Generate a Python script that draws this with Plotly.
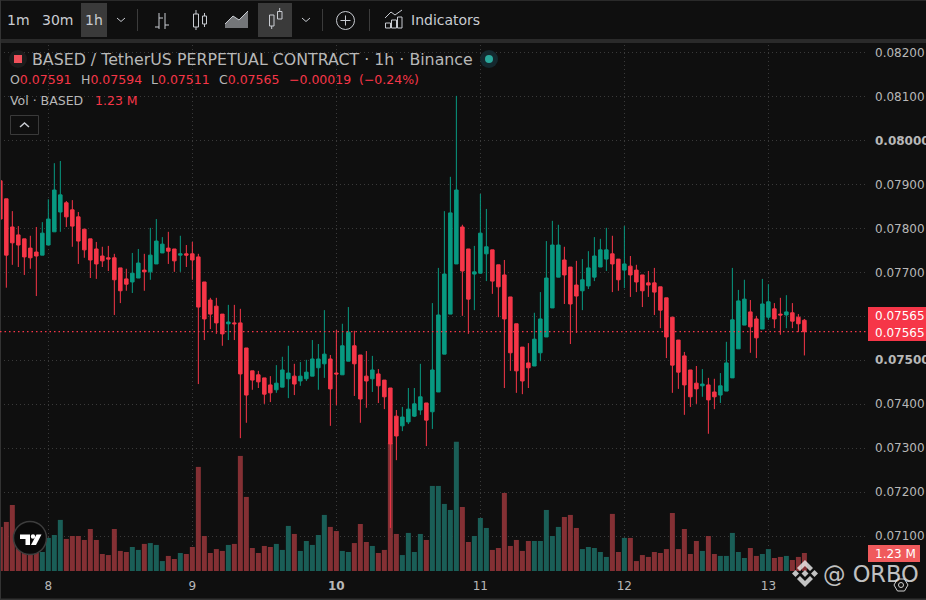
import numpy as np
import plotly.graph_objects as go

# BASED/USDT perp, 1h candles. Prices are in units of 0.00001
open_ = [
    7908, 7867, 7803, 7785, 7776, 7755, 7746, 7739, 7762, 7792,
    7837, 7858, 7842, 7826, 7798, 7776, 7753, 7737, 7733, 7733,
    7710, 7685, 7678, 7687, 7705, 7701, 7719, 7744, 7755, 7753,
    7739, 7742, 7742, 7735, 7678, 7637, 7623, 7605, 7583, 7585,
    7585, 7528, 7476, 7467, 7460, 7444, 7433, 7439, 7458, 7464,
    7453, 7458, 7464, 7483, 7492, 7503, 7471, 7467, 7498, 7533,
    7512, 7464, 7458, 7469, 7455, 7437, 7373, 7351, 7360, 7373,
    7387, 7403, 7383, 7428, 7514, 7605, 7719, 7803, 7753, 7696,
    7698, 7742, 7751, 7717, 7694, 7644, 7583, 7530, 7494, 7487,
    7517, 7553, 7619, 7689, 7728, 7712, 7671, 7658, 7669, 7689,
    7712, 7730, 7742, 7730, 7705, 7714, 7705, 7694, 7676, 7676,
    7667, 7642, 7598, 7546, 7510, 7478, 7448, 7442, 7444, 7428,
    7421, 7430, 7460, 7526, 7580, 7610, 7594, 7571, 7598, 7617,
    7605, 7603, 7608, 7598, 7591,
]
high = [
    7908, 7867, 7839, 7805, 7776, 7783, 7803, 7814, 7866, 7948,
    7953, 7862, 7864, 7837, 7798, 7776, 7769, 7758, 7760, 7742,
    7710, 7708, 7744, 7753, 7742, 7801, 7821, 7780, 7792, 7753,
    7783, 7762, 7769, 7742, 7678, 7642, 7642, 7605, 7626, 7626,
    7617, 7528, 7476, 7476, 7460, 7464, 7489, 7508, 7533, 7492,
    7496, 7501, 7546, 7537, 7614, 7512, 7569, 7583, 7621, 7567,
    7512, 7521, 7510, 7480, 7455, 7437, 7387, 7394, 7437, 7437,
    7492, 7403, 7630, 7710, 7839, 7917, 8101, 7808, 7753, 7760,
    7878, 7844, 7751, 7717, 7728, 7644, 7583, 7530, 7539, 7608,
    7655, 7771, 7817, 7808, 7758, 7712, 7726, 7730, 7748, 7780,
    7776, 7801, 7783, 7730, 7805, 7737, 7717, 7694, 7703, 7710,
    7667, 7642, 7598, 7546, 7519, 7478, 7487, 7480, 7460, 7458,
    7471, 7542, 7710, 7660, 7683, 7637, 7601, 7685, 7673, 7630,
    7642, 7648, 7630, 7605, 7594,
]
low = [
    7821, 7665, 7717, 7712, 7694, 7708, 7646, 7739, 7762, 7792,
    7792, 7803, 7758, 7719, 7733, 7687, 7685, 7712, 7703, 7603,
    7630, 7658, 7653, 7687, 7658, 7683, 7719, 7744, 7719, 7701,
    7701, 7712, 7683, 7446, 7546, 7571, 7560, 7533, 7546, 7546,
    7323, 7358, 7433, 7437, 7401, 7405, 7426, 7439, 7414, 7421,
    7442, 7453, 7464, 7433, 7460, 7351, 7398, 7467, 7498, 7419,
    7358, 7392, 7428, 7403, 7389, 7119, 7273, 7339, 7355, 7371,
    7376, 7305, 7344, 7428, 7514, 7605, 7719, 7601, 7560, 7614,
    7698, 7680, 7651, 7598, 7437, 7476, 7426, 7423, 7437, 7487,
    7498, 7553, 7619, 7689, 7628, 7537, 7562, 7614, 7662, 7680,
    7712, 7703, 7655, 7658, 7664, 7644, 7655, 7621, 7644, 7603,
    7573, 7505, 7426, 7435, 7376, 7394, 7401, 7417, 7333, 7389,
    7403, 7430, 7460, 7526, 7580, 7517, 7505, 7571, 7592, 7573,
    7558, 7573, 7573, 7564, 7511,
]
close = [
    7821, 7739, 7767, 7762, 7735, 7733, 7737, 7789, 7821, 7887,
    7876, 7826, 7805, 7771, 7751, 7728, 7719, 7726, 7730, 7683,
    7658, 7673, 7698, 7721, 7701, 7739, 7771, 7764, 7748, 7726,
    7742, 7739, 7728, 7621, 7594, 7605, 7585, 7560, 7587, 7583,
    7469, 7421, 7455, 7451, 7423, 7426, 7448, 7478, 7471, 7446,
    7464, 7473, 7503, 7503, 7514, 7435, 7469, 7533, 7564, 7492,
    7412, 7453, 7478, 7442, 7417, 7310, 7328, 7371, 7389, 7401,
    7417, 7364, 7478, 7603, 7696, 7835, 7887, 7703, 7639, 7701,
    7789, 7758, 7680, 7667, 7594, 7517, 7476, 7453, 7483, 7548,
    7594, 7687, 7762, 7762, 7694, 7628, 7646, 7683, 7710, 7737,
    7751, 7751, 7719, 7683, 7719, 7694, 7678, 7658, 7671, 7655,
    7614, 7553, 7489, 7473, 7444, 7417, 7435, 7446, 7410, 7417,
    7442, 7494, 7592, 7635, 7639, 7576, 7551, 7628, 7633, 7594,
    7603, 7610, 7589, 7583, 7565,
]
# volume in millions
volume = [
    3.01, 3.35, 4.51, 2.30, 2.05, 2.40, 2.20, 1.30, 2.26, 2.46,
    3.49, 2.19, 2.39, 2.39, 2.12, 2.87, 2.12, 1.16, 1.09, 2.87,
    1.37, 1.30, 1.64, 1.44, 1.85, 1.91, 1.78, 0.68, 1.03, 0.82,
    1.23, 1.16, 1.64, 7.11, 2.39, 1.23, 1.50, 1.37, 1.78, 1.85,
    7.86, 5.06, 1.57, 1.23, 1.71, 1.64, 1.85, 1.44, 3.08, 2.53,
    1.37, 2.05, 1.78, 2.46, 3.83, 3.01, 2.73, 1.37, 1.30, 1.91,
    3.21, 1.98, 1.71, 1.23, 1.44, 8.75, 2.53, 1.09, 2.60, 1.30,
    2.53, 2.12, 5.81, 5.81, 4.58, 4.17, 8.82, 4.37, 1.98, 2.39,
    3.62, 2.94, 1.44, 1.57, 5.33, 1.71, 2.12, 1.37, 2.05, 2.05,
    2.05, 4.17, 2.39, 3.01, 3.69, 3.83, 2.94, 1.50, 1.64, 1.57,
    1.30, 0.96, 3.90, 1.30, 2.26, 2.26, 0.68, 1.09, 0.96, 1.30,
    1.23, 1.50, 3.96, 1.50, 2.87, 1.16, 2.05, 1.37, 2.39, 1.16,
    1.03, 1.03, 2.60, 1.30, 0.89, 1.57, 1.03, 1.16, 1.50, 0.89,
    0.96, 1.03, 0.75, 0.96, 1.23,
]

day_ticks = [8, 32, 56, 80, 104, 128]
day_labels = ["8", "9", "<b>10</b>", "11", "12", "13"]
price_ticks = [0.082, 0.081, 0.080, 0.079, 0.078, 0.077, 0.076, 0.075, 0.074, 0.073, 0.072, 0.071]
price_labels = ["0.08200", "0.08100", "<b>0.08000</b>", "0.07900", "0.07800", "0.07700", "",
                "<b>0.07500</b>", "0.07400", "0.07300", "0.07200", "0.07100"]
last_price = 0.07565

W, H = 926, 600
BG = "#0f0f0f"
GREEN = "#089981"
RED = "#f63648"
GRID = "#3a3a3a"
TEXT = "#b8b8b8"
ICON = "#c9ccd2"

hours = np.arange(len(close))
o, h, l, c = [np.array(a) / 1e5 for a in (open_, high, low, close)]
vol_colors = ["#1a5e57" if b >= a else "#843034" for a, b in zip(open_, close)]

fig = go.Figure()
# volume sits on the base axis so the candles draw over it
fig.add_bar(x=hours, y=volume, marker=dict(color=vol_colors, line_width=0), width=0.83,
            xaxis="x", yaxis="y", hoverinfo="skip")
fig.add_candlestick(
    x=hours, open=o, high=h, low=l, close=c, xaxis="x", yaxis="y2", hoverinfo="skip",
    increasing=dict(line=dict(color=GREEN, width=1), fillcolor=GREEN),
    decreasing=dict(line=dict(color=RED, width=1), fillcolor=RED),
    whiskerwidth=0,
)


# helpers for the toolbar and other chrome, all given in page pixels
def px(x):
    return x / W


def py(y):
    return 1 - y / H


shapes = []
notes = []


def add_text(x, y, text, size=14, color=TEXT, anchor="left"):
    # left anchored annotations land one pixel to the right
    if anchor == "left":
        x -= 1
    notes.append(dict(x=px(x), y=py(y), xref="paper", yref="paper", text=text, showarrow=False,
                      xanchor=anchor, yanchor="middle", font=dict(size=size, color=color), borderpad=0))


def add_rect(x0, y0, x1, y1, fill=None, line=None, width=1):
    shapes.append(dict(type="rect", xref="paper", yref="paper", x0=px(x0), x1=px(x1), y0=py(y0), y1=py(y1),
                       fillcolor=fill or "rgba(0,0,0,0)", line=dict(color=line or "rgba(0,0,0,0)", width=width if line else 0)))


def add_circle(cx, cy, r, fill=None, line=None, width=1):
    shapes.append(dict(type="circle", xref="paper", yref="paper", x0=px(cx - r), x1=px(cx + r), y0=py(cy + r), y1=py(cy - r),
                       fillcolor=fill or "rgba(0,0,0,0)", line=dict(color=line or "rgba(0,0,0,0)", width=width if line else 0)))


def add_path(points, fill=None, line=None, width=1, closed=False):
    d = "M " + " L ".join(f"{px(x):.5f},{py(y):.5f}" for x, y in points) + (" Z" if closed else "")
    shapes.append(dict(type="path", xref="paper", yref="paper", path=d,
                       fillcolor=fill or "rgba(0,0,0,0)", line=dict(color=line or "rgba(0,0,0,0)", width=width if line else 0)))


def add_chevron(x, y, size=4, color=ICON):
    add_path([(x - size, y - 2), (x, y + 1.5), (x + size, y - 2)], line=color, width=1)


# frame and the band under the toolbar
add_rect(0, 39, W, 43, fill="#2a2a2a")
add_rect(0, 0, W, 1, fill="#2a2a2a")
add_rect(0, 0, 1, H, fill="#333333")
add_rect(0, 598.5, W, H, fill="#333333")

# toolbar
add_rect(81, 3, 107, 37, fill="#3a3a3a")
add_rect(258, 3, 292, 37, fill="#3a3a3a")
add_text(18, 20, "1m", 14, ICON, "center")
add_text(57, 20, "30m", 14, ICON, "center")
add_text(94, 20, "1h", 14, ICON, "center")
add_chevron(121, 20)
add_chevron(306, 20)
for sx in (137.5, 322.5, 369.5):
    add_path([(sx, 9), (sx, 31)], line="#3c3c3c")
# bars icon
add_path([(159, 13), (159, 29)], line=ICON)
add_path([(155, 27), (159, 27)], line=ICON)
add_path([(165, 13), (165, 29)], line=ICON)
add_path([(159, 18), (163, 18)], line=ICON)
add_path([(165, 25), (169, 25)], line=ICON)
# candles icon
add_rect(193.5, 14, 198.5, 27, line=ICON)
add_path([(196, 10), (196, 14)], line=ICON)
add_path([(196, 27), (196, 30)], line=ICON)
add_rect(202.5, 16, 206.5, 24, line=ICON)
add_path([(204.5, 13), (204.5, 16)], line=ICON)
add_path([(204.5, 24), (204.5, 27)], line=ICON)
# area icon
add_path([(225, 28), (225, 24), (233, 16), (239, 20), (248, 11), (248, 28)], fill="rgba(201,204,210,0.55)", closed=True)
add_path([(225, 24), (233, 16), (239, 20), (248, 11)], line=ICON)
# hollow candles icon, selected
add_rect(269.5, 15, 274, 26, line=ICON)
add_path([(271.7, 26), (271.7, 29)], line=ICON)
add_rect(277.5, 11.5, 282, 19, line=ICON)
add_path([(279.7, 8), (279.7, 11.5)], line=ICON)
# add button
add_circle(345.5, 20.5, 9, line=ICON)
add_path([(340.5, 20.5), (350.5, 20.5)], line=ICON)
add_path([(345.5, 15.5), (345.5, 25.5)], line=ICON)
# indicators icon
add_path([(385, 18), (391, 12), (395, 15), (402, 10)], line=ICON)
add_rect(385.5, 23, 390.5, 28, line=ICON)
add_rect(391.5, 20, 396.5, 28, line=ICON)
add_rect(397.5, 17, 402, 28, line=ICON)
add_text(411, 20, "Indicators", 14, ICON)

# legend block
add_circle(18, 59, 9, fill="#1c1c1c")
add_rect(14, 55, 22, 63, fill="#f0505a")
add_text(32, 59.5, "BASED / TetherUS PERPETUAL CONTRACT · 1h · Binance", 15.8, TEXT)
add_circle(489, 59, 9, fill="#14282e")
add_circle(489, 59, 4, fill="#2aa79b")
r = f'<span style="color:{RED}">'
add_text(10, 79.5, f"O{r}0.07591</span>", 12.5, TEXT)
add_text(81, 79.5, f"H{r}0.07594</span>", 12.5, TEXT)
add_text(151, 79.5, f"L{r}0.07511</span>", 12.5, TEXT)
add_text(219, 79.5, f"C{r}0.07565</span>", 12.5, TEXT)
add_text(289, 79.5, f"{r}−0.00019</span>", 12.5, TEXT)
add_text(359, 79.5, f"{r}(−0.24%)</span>", 12.5, TEXT)
add_text(10, 100.5, "Vol · BASED", 12.5, TEXT)
add_text(95, 100.5, f"{r}1.23 M</span>", 12.5, TEXT)
add_rect(10.5, 115.5, 38.5, 134.5, line="#3a3a3a")
add_path([(20, 127), (24.5, 123), (29, 127)], line=ICON, width=1.5)

# last price line and price tags
shapes.append(dict(type="line", xref="paper", yref="y2", x0=0, x1=px(868), y0=last_price, y1=last_price,
                   line=dict(color=RED, width=1.2, dash="1.5px,3px")))
add_rect(868, 307, W, 341, fill=RED)
add_text(899.5, 315.5, "0.07565", 12, "#ffffff", "center")
add_text(899.5, 333, "0.07565", 12, "#ffffff", "center")
add_rect(868, 545, 920, 562, fill="#f05a5c")
add_text(895, 553.5, "1.23 M", 12, "#ffffff", "center")

# tradingview badge
add_circle(30, 538, 16.5, fill="#0a0a0a", line="#3d3d3d", width=1.5)
add_path([(20, 534.5), (30, 534.5), (30, 545), (25.5, 545), (25.5, 539), (20, 539)], fill="#ffffff", closed=True)
add_circle(33, 536.5, 2.2, fill="#ffffff")
add_path([(36.5, 534.5), (41.5, 534.5), (36, 545), (31, 545)], fill="#ffffff", closed=True)

# watermark
WM = "rgba(235,235,235,0.82)"
add_path([(805, 560), (813, 568), (810, 571), (805, 566), (800, 571), (797, 568)], fill=WM, closed=True)
add_path([(805, 587), (813, 579), (810, 576), (805, 581), (800, 576), (797, 579)], fill=WM, closed=True)
add_path([(792, 573.5), (795.5, 570), (799, 573.5), (795.5, 577)], fill=WM, closed=True)
add_path([(811, 573.5), (814.5, 570), (818, 573.5), (814.5, 577)], fill=WM, closed=True)
add_path([(801.5, 573.5), (805, 570), (808.5, 573.5), (805, 577)], fill=WM, closed=True)
add_text(823, 574, "@ ORBO", 22.5, WM)
add_path([(894, 585), (897.5, 579), (904.5, 579), (908, 585), (904.5, 591), (897.5, 591)], line="#cfcfcf", closed=True)
add_circle(901, 585, 2.5, line="#cfcfcf")

fig.update_layout(
    width=W, height=H,
    margin=dict(l=0, r=0, t=0, b=0, autoexpand=False),
    paper_bgcolor=BG, plot_bgcolor=BG,
    font=dict(family="DejaVu Sans", color=TEXT, size=12),
    showlegend=False,
    boxgap=0.17,
    shapes=shapes,
    annotations=notes,
    xaxis=dict(
        domain=[0, px(868)], range=[-0.055, 144.6], rangeslider=dict(visible=False),
        tickmode="array", tickvals=day_ticks, ticktext=day_labels, ticks="", ticklabelstandoff=6,
        showgrid=True, gridcolor=GRID, griddash="1px,3px", gridwidth=1, zeroline=False, showline=False,
    ),
    yaxis=dict(domain=[29 / H, 559 / H], range=[0, 36.2], visible=False, fixedrange=True),
    yaxis2=dict(
        overlaying="y", side="right", anchor="x", range=[0.070211, 0.082257],
        tickmode="array", tickvals=price_ticks, ticktext=price_labels, ticks="", ticklabelstandoff=6,
        showgrid=True, gridcolor=GRID, griddash="1px,3px", gridwidth=1, zeroline=False, showline=False,
    ),
)

fig.write_html("out.html", config={"displayModeBar": False}, post_script="document.body.style.margin='0';document.body.style.background='" + BG + "';")
